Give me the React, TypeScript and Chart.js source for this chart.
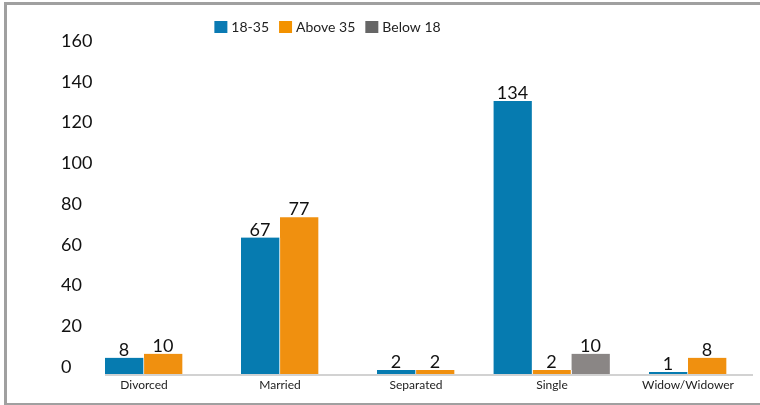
import React, { useEffect, useRef } from "react";
import { Chart, registerables } from "chart.js";

Chart.register(...registerables);

const categories = ["Divorced", "Married", "Separated", "Single", "Widow/Widower"];
const seriesNames = ["18-35", "Above 35", "Below 18"];
const age18to35 = [8, 67, 2, 134, 1];
const above35 = [10, 77, 2, 2, 8];
const below18: (number | null)[] = [null, null, null, 10, null];
const yTicks = [0, 20, 40, 60, 80, 100, 120, 140, 160];

const barColors = ["#067bb0", "#f0900f", "#8a8685"];
const legendColors = ["#0a7ab3", "#f39200", "#666666"];
const FONT = "Lato, 'Open Sans', sans-serif";

const dataLabels = {
  id: "dataLabels",
  afterDatasetsDraw(chart: any) {
    const ctx = chart.ctx;
    ctx.save();
    ctx.font = `18px ${FONT}`;
    ctx.fillStyle = "#111111";
    ctx.textAlign = "center";
    ctx.textBaseline = "alphabetic";
    chart.data.datasets.forEach((ds: any, i: number) => {
      const meta = chart.getDatasetMeta(i);
      meta.data.forEach((el: any, j: number) => {
        const v = ds.data[j];
        if (v === null || v === undefined) return;
        ctx.fillText(String(v), el.x - 0.5, el.y - 2);
      });
    });
    ctx.restore();
  },
};

const baseLine = {
  id: "baseLine",
  beforeDatasetsDraw(chart: any) {
    const ctx = chart.ctx;
    const first = chart.getDatasetMeta(0).data[0];
    const left = first ? first.x - first.width / 2 : chart.chartArea.left;
    ctx.save();
    ctx.strokeStyle = "#d2d2d2";
    ctx.lineWidth = 2;
    ctx.beginPath();
    ctx.moveTo(left, chart.chartArea.bottom + 1);
    ctx.lineTo(chart.chartArea.right - 3, chart.chartArea.bottom + 1);
    ctx.stroke();
    ctx.restore();
  },
};

const customLegend = {
  id: "customLegend",
  afterDraw(chart: any) {
    const ctx = chart.ctx;
    ctx.save();
    ctx.font = `14px ${FONT}`;
    const box = 13;
    const gapText = 4;
    const gapItem = 10;
    const items = chart.data.datasets.map((ds: any) => ({
      label: ds.label,
      w: ctx.measureText(ds.label).width,
    }));
    const total = items.reduce((s: number, it: any) => s + box + gapText + it.w, 0) + gapItem * (items.length - 1);
    let x = 327.5 - total / 2;
    const cy = 27;
    items.forEach((it: any, i: number) => {
      ctx.fillStyle = legendColors[i];
      ctx.fillRect(x, cy - 6, box, 12);
      x += box + gapText;
      ctx.fillStyle = "#222222";
      ctx.textAlign = "left";
      ctx.textBaseline = "middle";
      ctx.fillText(it.label, x, cy);
      x += it.w + gapItem;
    });
    ctx.restore();
  },
};

export default function App() {
  const ref = useRef<HTMLCanvasElement | null>(null);

  useEffect(() => {
    document.body.style.margin = "0";
    document.body.style.background = "#ffffff";
    const canvas = ref.current;
    if (!canvas) return;
    const mk = (label: string, data: (number | null)[], color: string) => ({
      label,
      data,
      backgroundColor: color,
      borderColor: "#ffffff",
      borderWidth: { top: 0, left: 0, bottom: 0, right: 1 },
      borderSkipped: false,
      barThickness: 39,
      skipNull: true,
    });
    const chart = new Chart(canvas, {
      type: "bar",
      data: {
        labels: categories,
        datasets: [
          mk(seriesNames[0], age18to35, barColors[0]),
          mk(seriesNames[1], above35, barColors[1]),
          mk(seriesNames[2], below18, barColors[2]),
        ] as any,
      },
      options: {
        animation: false,
        responsive: false,
        devicePixelRatio: 1,
        layout: { padding: { top: 48, right: 4, bottom: 8.5, left: 0 } },
        plugins: {
          legend: { display: false },
          tooltip: { enabled: false },
          title: { display: false },
        },
        scales: {
          x: {
            type: "category",
            offset: true,
            grid: { display: false, drawTicks: false },
            border: { display: false },
            ticks: {
              padding: 4,
              color: "#222222",
              font: { family: FONT, size: 12 },
              maxRotation: 0,
              autoSkip: false,
            },
          },
          y: {
            min: 0,
            max: 160,
            grid: { display: false, drawTicks: false },
            border: { display: false },
            afterFit(scale: any) {
              scale.width = 76;
            },
            afterBuildTicks(scale: any) {
              scale.ticks = yTicks.map((v) => ({ value: v }));
            },
            ticks: {
              mirror: true,
              padding: -15,
              labelOffset: -7,
              color: "#111111",
              font: { family: FONT, size: 18 },
            },
          },
        },
      } as any,
      plugins: [baseLine, dataLabels, customLegend],
    });
    return () => chart.destroy();
  }, []);

  return (
    <div>
      <div
        style={{
          position: "fixed",
          left: 4,
          top: 2,
          width: 800,
          height: 398,
          borderLeft: "3px solid #a0a0a0",
          borderTop: "3px solid #a0a0a0",
          borderBottom: "3px solid #a0a0a0",
          background: "#ffffff",
        }}
      />
      <canvas
        ref={ref}
        width={760}
        height={405}
        style={{ position: "fixed", left: 0, top: 0, width: 760, height: 405 }}
      />
    </div>
  );
}
